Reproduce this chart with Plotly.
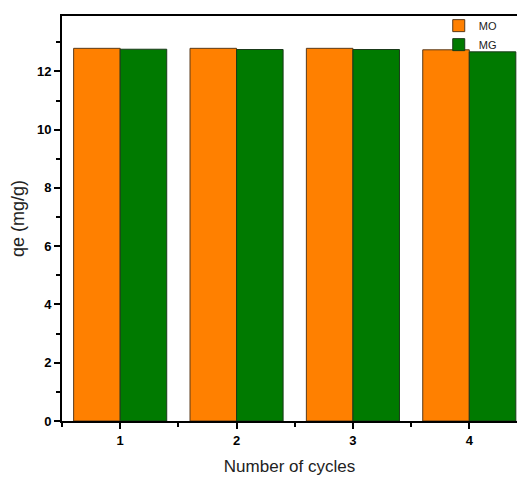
import plotly.graph_objects as go

cycles = [1, 2, 3, 4]
mo_values = [12.79, 12.79, 12.79, 12.74]
mg_values = [12.76, 12.75, 12.75, 12.67]
x_tick_labels = ["1", "2", "3", "4"]
y_tick_values = [0, 2, 4, 6, 8, 10, 12]

fig = go.Figure()
fig.add_trace(go.Bar(x=cycles, y=mo_values, name="MO",
                     marker=dict(color="#FF8000", line=dict(color="#5a3a1a", width=1))))
fig.add_trace(go.Bar(x=cycles, y=mg_values, name="MG",
                     marker=dict(color="#007A00", line=dict(color="#1a3a1a", width=1))))

font_family = "Arial"
fig.update_layout(
    width=517, height=478,
    margin=dict(l=62, r=0, t=16, b=57),
    paper_bgcolor="white", plot_bgcolor="white",
    barmode="group", bargap=0.2, bargroupgap=0,
    showlegend=True,
    legend=dict(x=0.828, y=1.012, xanchor="left", yanchor="top",
                font=dict(family=font_family, size=11, color="#222"),
                bgcolor="rgba(0,0,0,0)", tracegroupgap=0, itemwidth=30),
    xaxis=dict(
        range=[0.5, 4.41], tickmode="array", tickvals=cycles,
        ticktext=["<b>%s</b>" % t for t in x_tick_labels],
        showline=True, linecolor="black", linewidth=2, mirror=True,
        ticks="outside", ticklen=6, tickwidth=2, tickcolor="black",
        minor=dict(ticks="outside", tick0=0.5, dtick=0.5, ticklen=4, tickwidth=2, tickcolor="black"),
        showgrid=False, zeroline=False,
        tickfont=dict(family=font_family, size=13, color="black"),
        title=dict(text="Number of cycles", font=dict(family=font_family, size=17, color="#222"), standoff=14),
    ),
    yaxis=dict(
        range=[0, 13.9], tickmode="array", tickvals=y_tick_values,
        ticktext=["<b>%d</b>" % v for v in y_tick_values],
        showline=True, linecolor="black", linewidth=2,
        ticks="outside", ticklen=6, tickwidth=2, tickcolor="black",
        minor=dict(ticks="outside", tick0=0, dtick=1, ticklen=4, tickwidth=2, tickcolor="black"),
        showgrid=False, zeroline=False,
        tickfont=dict(family=font_family, size=13, color="black"),
        title=dict(text="qe (mg/g)", font=dict(family=font_family, size=18, color="#222"), standoff=8),
    ),
)

fig.write_html("out.html")
